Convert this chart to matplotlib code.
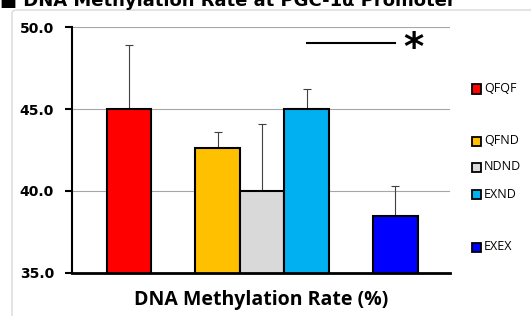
import matplotlib
matplotlib.use("Agg")
import matplotlib.pyplot as plt
from matplotlib.patches import Rectangle, FancyBboxPatch

groups = ["QFQF", "QFND", "NDND", "EXND", "EXEX"]
values = [45.0, 42.6, 40.0, 45.0, 38.5]
errors = [3.9, 1.0, 4.1, 1.2, 1.8]
colors = ["#ff0000", "#ffc000", "#d9d9d9", "#00b0f0", "#0000ff"]
positions = [0, 2, 3, 4, 6]
yticks = [35.0, 40.0, 45.0, 50.0]
sig_pair = (4, 6)
sig_level = 49.0

W, H = 531, 316
fig = plt.figure(figsize=(W / 100, H / 100), dpi=100)

# chart area border
fig.patches.append(FancyBboxPatch((12 / W, -0.1), 1.0, 1.0 - 10 / H + 0.1,
                                  boxstyle="round,pad=0,rounding_size=0.01",
                                  transform=fig.transFigure, fill=False,
                                  edgecolor="#d9d9d9", linewidth=1.0))

ax = fig.add_axes([72 / W, 1 - 273 / H, (450 - 72) / W, (273 - 27) / H])
ax.bar(positions, values, width=1.0, color=colors, edgecolor="black",
       linewidth=1.5, zorder=3)
ax.errorbar(positions, values, yerr=[[0] * len(errors), errors], fmt="none",
            ecolor="#404040", elinewidth=0.8, capsize=3, capthick=0.8, zorder=2)

ax.set_ylim(35, 50)
ax.set_xlim(-1.28, 7.23)
ax.set_yticks(yticks)
ax.set_yticklabels([f"{v:.1f}" for v in yticks], fontsize=10, fontweight="bold")
ax.set_xticks([])
ax.yaxis.grid(True, color="#a6a6a6", linewidth=0.8, zorder=0)
ax.set_axisbelow(True)
for s in ["top", "right"]:
    ax.spines[s].set_visible(False)
ax.spines["left"].set_linewidth(1.5)
ax.spines["bottom"].set_linewidth(2)
ax.spines["bottom"].set_zorder(4)
ax.tick_params(axis="y", length=5, width=1.5, pad=8)

# significance bar
ax.plot(sig_pair, [sig_level, sig_level], color="black", linewidth=1.5, clip_on=False)
ax.text(sig_pair[1] + 0.40, sig_level - 0.37, "*", fontsize=28, fontweight="bold",
        ha="center", va="center", clip_on=False)

ax.set_xlabel("DNA Methylation Rate (%)", fontsize=14, fontweight="bold",
              family="Open Sans", labelpad=12)

# legend
leg_y = [89, 141, 167, 194, 247]
for g, c, yy in zip(groups, colors, leg_y):
    fig.patches.append(Rectangle((472 / W, 1 - (yy + 4.5) / H), 9 / W, 9 / H,
                                 transform=fig.transFigure, facecolor=c,
                                 edgecolor="black", linewidth=1.3))
    fig.text(484 / W, 1 - yy / H, g, fontsize=9, family="Open Sans",
             va="center", ha="left", color="black")

fig.text(0.0, 1 - 6 / H, "\u25a0 DNA Methylation Rate at PGC-1\u03b1 Promoter",
         fontsize=13, fontweight="bold", va="baseline", ha="left")

fig.savefig("out.png", dpi=100)
